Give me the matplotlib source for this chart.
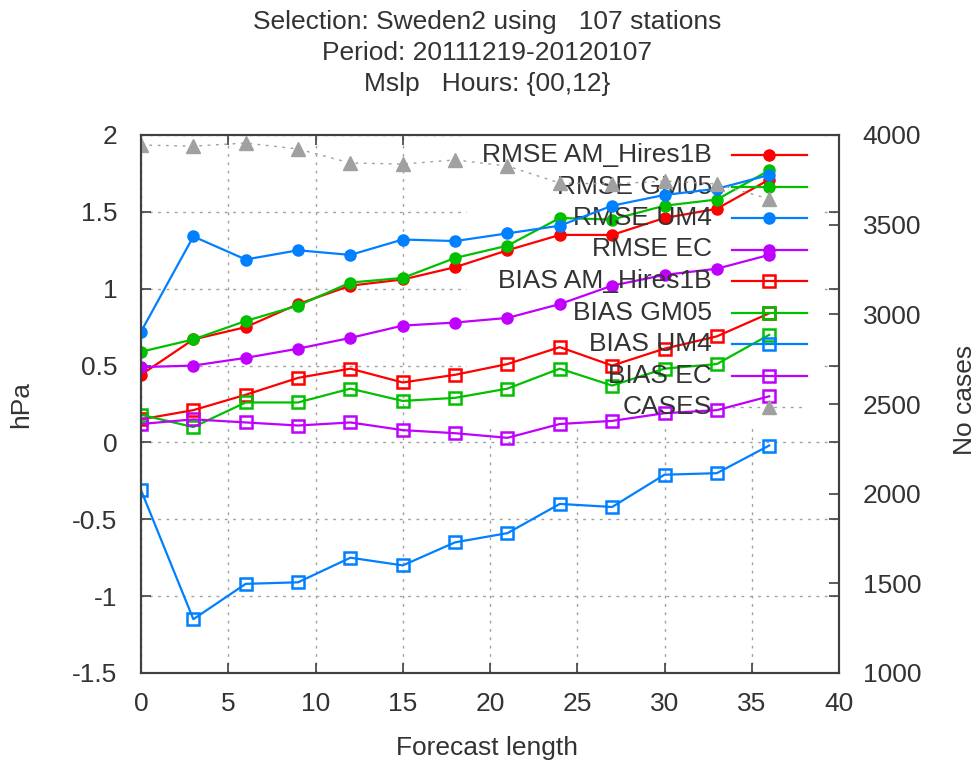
import matplotlib
matplotlib.use("Agg")
import matplotlib.pyplot as plt
from matplotlib.patches import Rectangle

# Verification scores for Mslp, Sweden2 selection
lead = [0, 3, 6, 9, 12, 15, 18, 21, 24, 27, 30, 33, 36]

rmse_am = [0.44, 0.67, 0.75, 0.90, 1.02, 1.06, 1.14, 1.25, 1.35, 1.35, 1.46, 1.52, 1.71]
rmse_gm = [0.59, 0.67, 0.79, 0.89, 1.04, 1.07, 1.20, 1.28, 1.46, 1.45, 1.54, 1.58, 1.77]
rmse_um = [0.72, 1.34, 1.19, 1.25, 1.22, 1.32, 1.31, 1.36, 1.41, 1.54, 1.61, 1.65, 1.74]
rmse_ec = [0.49, 0.50, 0.55, 0.61, 0.68, 0.76, 0.78, 0.81, 0.90, 1.02, 1.09, 1.13, 1.22]

bias_am = [0.15, 0.21, 0.31, 0.42, 0.48, 0.39, 0.44, 0.51, 0.62, 0.50, 0.61, 0.69, 0.84]
bias_gm = [0.18, 0.10, 0.26, 0.26, 0.35, 0.27, 0.29, 0.35, 0.48, 0.37, 0.48, 0.51, 0.70]
bias_um = [-0.31, -1.15, -0.92, -0.91, -0.75, -0.80, -0.65, -0.59, -0.40, -0.42, -0.21, -0.20, -0.02]
bias_ec = [0.12, 0.15, 0.13, 0.11, 0.13, 0.08, 0.06, 0.03, 0.12, 0.14, 0.19, 0.21, 0.30]

cases = [3944, 3938, 3955, 3922, 3844, 3838, 3861, 3827, 3732, 3727, 3743, 3727, 3643]

labels = ["RMSE AM_Hires1B", "RMSE GM05", "RMSE UM4", "RMSE EC",
          "BIAS AM_Hires1B", "BIAS GM05", "BIAS UM4", "BIAS EC"]
colors = ["#ff0000", "#00c000", "#0080ff", "#c000ff"]

txt = "#333333"
fs = 19
plt.rcParams["font.family"] = ["Liberation Sans", "DejaVu Sans"]
plt.rcParams["font.size"] = fs

fig = plt.figure(figsize=(9.8, 7.65), dpi=100)
ax = fig.add_axes([141 / 980, 1 - 673 / 765, 698 / 980, 538 / 765])
ax2 = ax.twinx()

ax.set_xlim(0, 40)
ax.set_ylim(-1.5, 2)
ax.set_xticks(range(0, 41, 5))
ax.set_yticks([-1.5, -1, -0.5, 0, 0.5, 1, 1.5, 2])
ax.set_yticklabels(["-1.5", "-1", "-0.5", "0", "0.5", "1", "1.5", "2"])
ax2.set_ylim(1000, 4000)
ax2.set_yticks(range(1000, 4001, 500))

ax.set_axisbelow(True)
ax.grid(True, color="#a0a0a0", linestyle=(0, (2, 4)), linewidth=1)
# grid is left out behind the key
ax.add_patch(Rectangle((18.7, 0.12), 20.3, 1.9, facecolor="white",
                       edgecolor="none", zorder=1))

for a in (ax, ax2):
    for s in a.spines.values():
        s.set_color("#404040")
        s.set_linewidth(1.5)
ax.tick_params(direction="in", length=7, width=1.2, color="#404040",
               top=True, right=True, labelcolor=txt, labelsize=fs)
ax.tick_params(axis="y", pad=17)
ax.tick_params(axis="x", pad=14)
ax2.tick_params(direction="in", length=7, width=1.2, color="#404040",
                labelcolor=txt, labelsize=fs, pad=17)

series = [rmse_am, rmse_gm, rmse_um, rmse_ec, bias_am, bias_gm, bias_um, bias_ec]
row0 = (673 - 155) / 538
drow = 31.5 / 538
for i, (vals, lab) in enumerate(zip(series, labels)):
    c = colors[i % 4]
    if i < 4:
        mk = dict(marker="o", markersize=8, markerfacecolor=c, markeredgecolor=c)
    else:
        mk = dict(marker="s", markersize=8, markerfacecolor="none",
                  markeredgecolor=c, markeredgewidth=1.8)
    z = 2 + i * 0.1
    ax.plot(lead, vals, color=c, linewidth=1.6, zorder=z, **mk)
    # key entry: text, then sample line
    y = row0 - i * drow
    ax.text(0.818, y, lab, transform=ax.transAxes, ha="right", va="center",
            color=txt, fontsize=fs, zorder=z - 0.05)
    ax.plot([0.847, 0.954], [y, y], transform=ax.transAxes, color=c,
            linewidth=1.6, zorder=z - 0.05, clip_on=False)
    ax.plot([0.900], [y], transform=ax.transAxes, color=c, zorder=z - 0.05,
            clip_on=False, **mk)

tri = dict(marker="^", markersize=10, color="#a0a0a0")
ax2.plot(lead, cases, linestyle=(0, (2, 4)), linewidth=1, **tri)
y = row0 - 8 * drow
ax2.text(0.818, y, "CASES", transform=ax2.transAxes, ha="right", va="center",
         color=txt, fontsize=fs)
ax2.plot([0.847, 0.954], [y, y], transform=ax2.transAxes, color="#a0a0a0",
         linestyle=(0, (2, 4)), linewidth=1)
ax2.plot([0.900], [y], transform=ax2.transAxes, linestyle="none", **tri)

# axis titles
fig.text(487 / 980, 1 - 748 / 765, "Forecast length", ha="center",
         va="center", color=txt, fontsize=fs)
fig.text(21 / 980, 1 - 404 / 765, "hPa", ha="center", va="center",
         rotation=90, color=txt, fontsize=fs)
fig.text(965 / 980, 1 - 400 / 765, "No cases", ha="center", va="center",
         rotation=90, color=txt, fontsize=fs)

fig.text(0.497, 1 - 22 / 765, "Selection: Sweden2 using   107 stations",
         ha="center", va="center", color=txt, fontsize=fs)
fig.text(0.497, 1 - 53 / 765, "Period: 20111219-20120107",
         ha="center", va="center", color=txt, fontsize=fs)
fig.text(0.497, 1 - 84 / 765, "Mslp   Hours: {00,12}",
         ha="center", va="center", color=txt, fontsize=fs)

fig.savefig("out.png", dpi=100)
